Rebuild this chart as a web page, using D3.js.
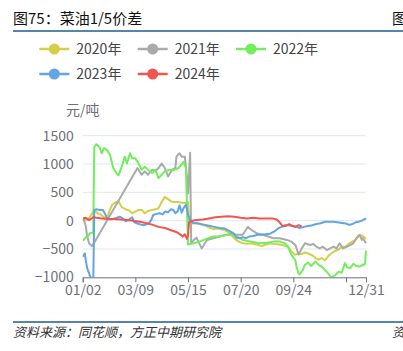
<!DOCTYPE html>
<html>
<head>
<meta charset="utf-8">
<script src="https://cdn.jsdelivr.net/npm/d3@7"></script>
<style>
  body { margin: 0; background: #fff; }
  svg { display: block; font-family: "Noto Sans CJK SC", "Noto Sans", sans-serif; }
</style>
</head>
<body>
<script>
// Tick positions (trading-day index) and labels
const tickIdx = [0, 50, 100, 150, 200, 250, 269];
const tickLabels = ['01/02', '03/09', '05/15', '07/20', '09/24', '', '12/31'];
const yTicks = [-1000, -500, 0, 500, 1000, 1500];

// Series: [day index, spread 元/吨]
const s2020 = [[0,10],[5,20],[8,100],[11,190],[14,130],[17,110],[20,60],[23,40],[26,200],[28,280],[31,320],[34,340],[37,240],[41,200],[44,180],[47,130],[50,160],[53,190],[56,190],[59,130],[62,170],[66,190],[69,200],[72,220],[75,330],[78,420],[81,380],[84,340],[87,330],[90,330],[93,320],[97,310],[99,320],[100,330],[101,-40],[104,-50],[108,-40],[113,-70],[118,-100],[121,-130],[124,-150],[128,-140],[131,-150],[135,-170],[139,-210],[142,-270],[145,-330],[149,-380],[152,-400],[156,-410],[160,-400],[165,-420],[170,-450],[174,-420],[178,-400],[182,-410],[187,-420],[191,-440],[195,-460],[198,-540],[201,-600],[204,-590],[208,-590],[211,-560],[214,-580],[218,-610],[221,-660],[224,-690],[227,-660],[230,-700],[233,-630],[236,-580],[239,-540],[243,-510],[246,-460],[249,-460],[252,-420],[256,-370],[259,-340],[262,-260],[265,-260],[269,-320]];

const s2021 = [[0,0],[1,20],[3,-100],[4,-250],[6,-400],[9,-450],[52,930],[56,810],[59,870],[62,810],[66,900],[69,870],[72,930],[75,1010],[78,930],[81,780],[85,900],[88,930],[89,1130],[92,1190],[94,1130],[97,1130],[99,750],[100,480],[102,1200],[103,-400],[105,-350],[108,-300],[113,-490],[118,-340],[124,-310],[130,-280],[137,-250],[141,-220],[146,-250],[152,-250],[155,-160],[157,-110],[160,-160],[165,-220],[171,-250],[176,-280],[181,-310],[187,-310],[194,-340],[198,-370],[202,-430],[205,-600],[208,-490],[211,-400],[216,-430],[219,-410],[222,-460],[225,-490],[228,-460],[232,-520],[235,-490],[238,-460],[241,-490],[244,-400],[247,-490],[251,-460],[254,-430],[257,-400],[260,-310],[263,-250],[265,-340],[266,-310],[269,-400]];

const s2022 = [[0,-340],[1,-340],[3,-290],[5,-270],[7,-220],[10,-210],[11,1300],[13,1350],[16,1300],[18,1190],[20,1280],[23,1250],[26,1160],[29,930],[32,840],[34,800],[37,950],[40,1130],[42,1010],[45,1190],[47,1100],[50,1100],[53,1010],[56,900],[59,950],[62,900],[66,840],[69,900],[72,750],[75,810],[78,870],[83,900],[86,890],[91,930],[96,1040],[98,930],[100,-420],[105,-400],[111,-370],[118,-320],[124,-280],[130,-280],[137,-250],[143,-250],[148,-290],[149,-310],[152,-340],[160,-370],[168,-400],[175,-390],[181,-370],[187,-370],[192,-400],[195,-460],[198,-600],[202,-700],[203,-810],[205,-930],[206,-950],[209,-870],[211,-780],[214,-740],[217,-800],[221,-720],[224,-780],[227,-810],[230,-870],[233,-930],[236,-1000],[240,-960],[243,-900],[246,-920],[249,-750],[251,-820],[254,-840],[257,-760],[260,-800],[263,-810],[266,-780],[268,-770],[269,-530]];

const s2023 = [[0,-640],[1,-600],[2,-580],[3,-700],[4,-820],[5,-880],[6,-920],[7,-990],[8,-1000],[9,-1050],[10,-1100],[11,190],[13,200],[16,190],[19,190],[21,130],[23,50],[26,20],[29,30],[32,50],[35,70],[38,40],[41,-10],[44,20],[47,60],[49,-30],[52,-50],[55,-70],[58,-80],[61,-60],[63,-40],[65,10],[67,100],[70,120],[73,130],[76,110],[78,160],[81,150],[84,200],[86,190],[88,130],[90,160],[92,270],[94,140],[96,230],[98,280],[99,200],[100,110],[102,10],[105,-40],[110,-50],[115,-70],[120,-90],[125,-110],[130,-130],[135,-140],[140,-190],[143,-220],[146,-300],[149,-310],[152,-290],[155,-310],[158,-280],[162,-270],[166,-250],[170,-250],[174,-240],[178,-230],[182,-190],[186,-130],[189,-110],[192,-80],[196,-80],[200,-100],[203,-110],[206,-130],[210,-110],[214,-95],[218,-80],[222,-60],[226,-45],[230,-20],[234,-20],[238,-20],[242,-30],[246,-40],[250,-50],[253,-75],[256,-60],[259,-30],[262,-20],[265,0],[269,40]];

const s2024 = [[0,40],[3,50],[6,10],[10,60],[13,50],[18,40],[24,30],[30,30],[36,20],[42,10],[48,0],[54,-20],[60,-40],[66,-70],[72,-110],[78,-130],[84,-170],[90,-210],[93,-250],[95,-280],[97,-240],[99,-320],[100,-260],[101,-30],[104,0],[108,10],[114,20],[120,40],[126,60],[132,70],[138,80],[144,70],[150,50],[156,40],[162,50],[168,40],[174,40],[180,40],[184,20],[187,-30],[190,-100],[193,-90],[196,-60],[199,-90],[202,-110],[205,-80],[208,-100]];

const seriesNames = ['2020年', '2021年', '2022年', '2023年', '2024年'];
const seriesData = [s2020, s2021, s2022, s2023, s2024];
const colors = ['#d4cf48', '#aaaaaa', '#72ee5c', '#62a5e2', '#f0554f'];

const w = 403, h = 351;
const plotLeft = 82.7, plotRight = 366, plotTop = 135.7, plotBottom = 277.3;

const svg = d3.select('body').append('svg')
  .attr('width', w)
  .attr('height', h);

// Header and footer (the right-hand glyphs are cut by the page edge, as in the source)
svg.append('text')
  .attr('x', 13).attr('y', 24)
  .attr('font-size', '15px')
  .attr('fill', '#111')
  .text('图75：菜油1/5价差');
svg.append('text')
  .attr('x', 392).attr('y', 24)
  .attr('font-size', '15px')
  .attr('fill', '#111')
  .text('图');
svg.append('line')
  .attr('x1', 13).attr('x2', w).attr('y1', 31).attr('y2', 31)
  .attr('stroke', '#1f5d8e').attr('stroke-width', 1.6);

svg.append('line')
  .attr('x1', 13).attr('x2', w).attr('y1', 322).attr('y2', 322)
  .attr('stroke', '#1f5d8e').attr('stroke-width', 1.4);
svg.append('text')
  .attr('x', 13).attr('y', 337)
  .attr('font-size', '13px')
  .attr('font-style', 'italic')
  .attr('fill', '#333')
  .text('资料来源：同花顺，方正中期研究院');
svg.append('text')
  .attr('x', 392).attr('y', 337)
  .attr('font-size', '13px')
  .attr('font-style', 'italic')
  .attr('fill', '#333')
  .text('资');

// Scales
const x = d3.scaleLinear().domain([0, 269]).range([plotLeft, plotRight]);
const y = d3.scaleLinear().domain([-1000, 1500]).range([plotBottom, plotTop]);

// Grid
svg.append('g')
  .selectAll('line')
  .data(yTicks.filter(d => d !== -1000))
  .enter()
  .append('line')
  .attr('x1', plotLeft).attr('x2', plotRight)
  .attr('y1', d => y(d)).attr('y2', d => y(d))
  .attr('stroke', '#e0e6f1');

// Y axis labels
const yAxis = svg.append('g')
  .attr('transform', `translate(${plotLeft - 9},0)`)
  .call(d3.axisLeft(y).tickValues(yTicks).tickFormat(d3.format('d')).tickSize(0).tickPadding(0));
yAxis.select('.domain').remove();
yAxis.selectAll('text')
  .attr('font-size', '14px')
  .attr('font-family', '"Noto Sans CJK SC", "Noto Sans", sans-serif')
  .attr('fill', '#6e7079');

svg.append('text')
  .attr('x', plotLeft).attr('y', 115)
  .attr('text-anchor', 'middle')
  .attr('font-size', '14px')
  .attr('fill', '#6e7079')
  .text('元/吨');

// Lines
svg.append('clipPath').attr('id', 'plot-clip')
  .append('rect')
  .attr('x', plotLeft).attr('y', plotTop - 10)
  .attr('width', plotRight - plotLeft + 2).attr('height', plotBottom - plotTop + 10);

const line = d3.line()
  .x(d => x(d[0]))
  .y(d => y(d[1]));

svg.append('g')
  .attr('clip-path', 'url(#plot-clip)')
  .selectAll('path')
  .data(seriesData)
  .enter()
  .append('path')
  .attr('d', line)
  .attr('fill', 'none')
  .attr('stroke', (d, i) => colors[i])
  .attr('stroke-width', 2)
  .attr('stroke-linejoin', 'round');

// X axis
const xAxis = svg.append('g')
  .attr('transform', `translate(0,${plotBottom})`)
  .call(d3.axisBottom(x).tickValues(tickIdx).tickFormat((d, i) => tickLabels[i]).tickSize(5).tickPadding(3));
xAxis.select('.domain').attr('stroke', '#6e7079');
xAxis.selectAll('line').attr('stroke', '#6e7079');
xAxis.selectAll('text')
  .attr('font-size', '14px')
  .attr('font-family', '"Noto Sans CJK SC", "Noto Sans", sans-serif')
  .attr('fill', '#6e7079');

// Legend
const legendPos = [[39.3, 49], [137.7, 49], [236, 49], [39.3, 74], [137.7, 74]];
const legend = svg.append('g')
  .selectAll('g')
  .data(seriesNames)
  .enter()
  .append('g')
  .attr('transform', (d, i) => `translate(${legendPos[i][0]},${legendPos[i][1]})`);
legend.append('line')
  .attr('x1', 0).attr('x2', 30)
  .attr('stroke', (d, i) => colors[i])
  .attr('stroke-width', 2.5);
legend.append('circle')
  .attr('cx', 15).attr('r', 5.5)
  .attr('fill', (d, i) => colors[i]);
legend.append('text')
  .attr('x', 37).attr('y', 5)
  .attr('font-size', '14px')
  .attr('fill', '#444')
  .text(d => d);
</script>
</body>
</html>
